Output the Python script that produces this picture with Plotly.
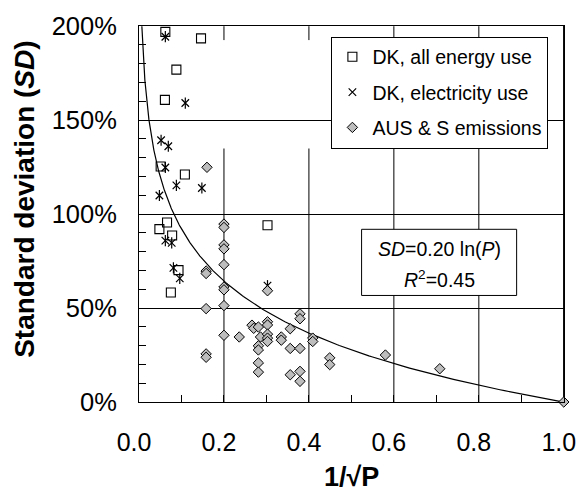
import numpy as np
import plotly.graph_objects as go

# ---- data ----
dk_energy_x = [0.062, 0.146, 0.088, 0.061, 0.051, 0.108, 0.3025, 0.066, 0.048, 0.078, 0.093, 0.075]
dk_energy_y = [1.97, 1.935, 1.769, 1.608, 1.253, 1.211, 0.941, 0.955, 0.920, 0.886, 0.702, 0.583]

dk_elec_x = [0.062, 0.109, 0.052, 0.069, 0.062, 0.088, 0.148, 0.048, 0.062, 0.077, 0.081, 0.096, 0.3025]
dk_elec_y = [1.944, 1.591, 1.393, 1.361, 1.248, 1.153, 1.139, 1.099, 0.859, 0.847, 0.714, 0.658, 0.619]

aus_x = [0.160,
         0.2, 0.2, 0.2, 0.2, 0.2, 0.2, 0.2, 0.2, 0.2,
         0.158, 0.158, 0.158, 0.158, 0.158,
         0.3025, 0.236,
         0.266, 0.270, 0.281, 0.286, 0.281, 0.281, 0.281, 0.281,
         0.3025, 0.3025, 0.3025, 0.3025, 0.3025,
         0.335, 0.335, 0.356, 0.356, 0.356,
         0.379, 0.379, 0.379, 0.379, 0.379,
         0.409, 0.409, 0.449, 0.449, 0.580, 0.708, 1.0]
aus_y = [1.249,
         0.947, 0.929, 0.836, 0.815, 0.731, 0.612, 0.597, 0.513, 0.355,
         0.697, 0.684, 0.497, 0.256, 0.238,
         0.592, 0.346,
         0.409, 0.392, 0.399, 0.346, 0.299, 0.277, 0.208, 0.159,
         0.427, 0.410, 0.361, 0.340, 0.322,
         0.346, 0.329, 0.390, 0.285, 0.145,
         0.469, 0.443, 0.285, 0.163, 0.110,
         0.340, 0.322, 0.235, 0.199, 0.250, 0.177, 0.0]

# fitted trend: SD = a * ln(P), x = 1/sqrt(P)
fit_a = 0.20
fit_r2 = 0.45

x_ticks = [0.0, 0.2, 0.4, 0.6, 0.8, 1.0]
y_ticks = [0.0, 0.5, 1.0, 1.5, 2.0]

FONT = "Liberation Sans, Arial, sans-serif"
X_MAX = 1.0005
Y_MAX = 2.001

# trend curve points
xf = np.geomspace(np.exp(-2.0 / (2 * fit_a)), 1.0, 400)
yf = fit_a * np.log(1.0 / xf ** 2)

fig = go.Figure()

fig.add_trace(go.Scatter(
    x=xf, y=yf, mode="lines", line=dict(color="black", width=1.2),
    showlegend=False, hoverinfo="skip"))

fig.add_trace(go.Scatter(
    x=dk_energy_x, y=dk_energy_y, mode="markers", name="DK, all energy use",
    legendgroup="a", cliponaxis=False,
    marker=dict(symbol="square-open", size=9, color="black", line=dict(width=1.1))))

fig.add_trace(go.Scatter(
    x=dk_elec_x, y=dk_elec_y, mode="markers", name="DK, electricity use",
    legendgroup="b", showlegend=False, cliponaxis=False,
    marker=dict(symbol="line-ns-open", size=8, color="black", line=dict(width=1.2, color="black"))))
fig.add_trace(go.Scatter(
    x=dk_elec_x, y=dk_elec_y, mode="markers", name="DK, electricity use",
    legendgroup="b", cliponaxis=False,
    marker=dict(symbol="x-thin-open", size=7.5, color="black", line=dict(width=1.2, color="black"))))

fig.add_trace(go.Scatter(
    x=aus_x, y=aus_y, mode="markers", name="AUS & S emissions",
    legendgroup="c", cliponaxis=False,
    marker=dict(symbol="diamond", size=8, color="#bdbdbd", line=dict(width=1, color="black"))))

# vertical grid segments (gap where the reference shows none)
shapes = []
for xv in x_ticks[1:-1]:
    shapes.append(dict(type="line", xref="x", yref="y", x0=xv, x1=xv, y0=0, y1=1.349,
                       line=dict(color="black", width=1), layer="below"))
    shapes.append(dict(type="line", xref="x", yref="y", x0=xv, x1=xv, y0=1.926, y1=2.0,
                       line=dict(color="black", width=1), layer="below"))
# right frame line
shapes.append(dict(type="line", xref="paper", yref="paper", x0=0.999, x1=0.999, y0=0, y1=1,
                   line=dict(color="black", width=1), layer="below"))
# equation box
shapes.append(dict(type="rect", xref="x", yref="y", x0=0.524, x1=0.889, y0=0.567, y1=0.919,
                   fillcolor="white", line=dict(color="black", width=1), layer="above"))

annotations = [
    dict(text="<i>SD</i>=%.2f ln(<i>P</i>)" % fit_a, xref="x", yref="y", x=0.707, y=0.815,
         showarrow=False, font=dict(size=19.5, family=FONT, color="black")),
    dict(text="<i>R</i><sup>2</sup>=%.2f" % fit_r2, xref="x", yref="y", x=0.707, y=0.652,
         showarrow=False, font=dict(size=19.5, family=FONT, color="black")),
    dict(text="<b>Standard deviation (<i>SD</i>)</b>", xref="paper", yref="paper",
         x=-0.268, y=0.538, textangle=-90, showarrow=False, xanchor="center", yanchor="middle",
         font=dict(size=28, family=FONT, color="black")),
    dict(text="<b>1/\u221aP</b>", xref="paper", yref="paper",
         x=0.5, y=-0.2, showarrow=False, xanchor="center", yanchor="middle",
         font=dict(size=27, family=FONT, color="black")),
]

fig.update_layout(
    width=588, height=495,
    margin=dict(l=139, r=16, t=21, b=93),
    paper_bgcolor="white", plot_bgcolor="white",
    font=dict(family=FONT, color="black"),
    shapes=shapes, annotations=annotations,
    legend=dict(x=0.4527, y=0.972, xanchor="left", yanchor="top",
                bgcolor="white", bordercolor="black", borderwidth=1,
                font=dict(size=19.5, family=FONT, color="black"),
                traceorder="grouped", tracegroupgap=7),
    xaxis=dict(range=[0, X_MAX], tickvals=x_ticks, ticktext=["%.1f" % v for v in x_ticks],
               showgrid=False, zeroline=False, showline=True, linecolor="black", linewidth=1,
               mirror=True, ticks="inside", ticklen=7, tickcolor="black",
               minor=dict(dtick=0.1, ticks="inside", ticklen=7, tickcolor="black", showgrid=False),
               tickfont=dict(size=25, family=FONT, color="black"), ticklabelstandoff=18,
               ticklabelshift=-5),
    yaxis=dict(range=[0, Y_MAX], tickvals=y_ticks, ticktext=["%d%%" % round(v * 100) for v in y_ticks],
               showgrid=True, gridcolor="black", gridwidth=1, zeroline=False,
               showline=True, linecolor="black", linewidth=1, mirror=True,
               ticks="inside", ticklen=7, tickcolor="black",
               minor=dict(dtick=0.1, ticks="inside", ticklen=7, tickcolor="black", showgrid=False),
               tickfont=dict(size=25.5, family=FONT, color="black"), ticklabelstandoff=16),
)

fig.write_html("out.html")
